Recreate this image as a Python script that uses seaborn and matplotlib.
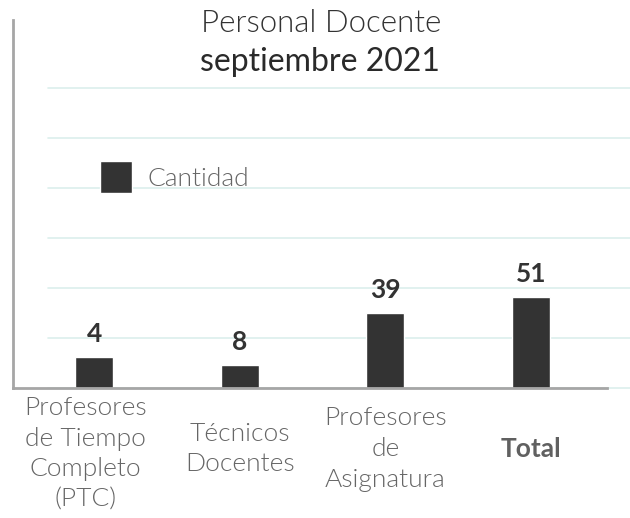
import matplotlib
matplotlib.use("Agg")
import matplotlib.pyplot as plt
import matplotlib.transforms as mtransforms
import seaborn as sns

categorias = ["Profesores\nde Tiempo\nCompleto\n(PTC)", "Técnicos\nDocentes",
              "Profesores\nde\nAsignatura", "Total"]
valores = [4, 8, 39, 51]                 # data labels shown above bars
alturas = [6.2, 4.6, 15.0, 18.2]         # bar heights as drawn in the reference
serie = "Cantidad"
titulo_1 = "Personal Docente"
titulo_2 = "septiembre 2021"
grid_vals = [0, 10, 20, 30, 40, 50, 60]

sns.set_theme(style="white")
plt.rcParams['font.family'] = ['Lato', 'DejaVu Sans']

W, H = 630, 518
fig = plt.figure(figsize=(W / 100, H / 100), dpi=100)
ax_l, ax_r, ax_b, ax_t = 13, 607, 388, 20
ax = fig.add_axes([ax_l / W, 1 - ax_b / H, (ax_r - ax_l) / W, (ax_b - ax_t) / H])

sns.barplot(x=categorias, y=alturas, color="#333333", saturation=1,
            width=0.262, label=serie, ax=ax, zorder=3)

ax.set_xlim(-0.557, 3.523)
ax.set_ylim(0, 73.6)

# grid lines
x0 = (48 - ax_l) / (ax_r - ax_l)
x1 = (630 - ax_l) / (ax_r - ax_l)
for g in grid_vals:
    ax.axhline(g, xmin=x0, xmax=x1, color="#dcefec", lw=1.2, zorder=0, clip_on=False)

for s in ["top", "right"]:
    ax.spines[s].set_visible(False)
for s in ["left", "bottom"]:
    ax.spines[s].set_color("#a6a6a6")
    ax.spines[s].set_linewidth(2)
    ax.spines[s].set_zorder(4)

ax.set_yticks([])
ax.set_ylabel("")
ax.set_xlabel("")
ax.tick_params(axis="x", length=0, pad=44)
for i, lab in enumerate(ax.get_xticklabels()):
    lab.set_verticalalignment("center")
    lab.set_fontsize(19)
    lab.set_linespacing(1.35)
    if categorias[i] == "Total":
        lab.set_fontweight("bold")
        lab.set_color("#606060")
    else:
        lab.set_fontweight(300)
        lab.set_color("#666666")
    if i == 0:
        lab.set_transform(lab.get_transform() +
                          mtransforms.ScaledTranslation(-9 / 100, -5 / 100, fig.dpi_scale_trans))

cont = ax.containers[0]
ax.bar_label(cont, labels=[str(v) for v in valores], padding=8,
             fontsize=19, fontweight="bold", color="#333333")

leg = ax.legend(loc="center left", bbox_to_anchor=(100 / W, 1 - 177 / H),
                bbox_transform=fig.transFigure, frameon=False, borderpad=0,
                borderaxespad=0, handlelength=1.213, handleheight=1.489,
                handletextpad=0.57, prop={"size": 19, "weight": 300})
for t in leg.get_texts():
    t.set_color("#666666")

fig.text(321 / W, 1 - 32 / H, titulo_1, ha="center", va="baseline",
         fontsize=22.5, fontweight=300, color="#333333")
fig.text(320 / W, 1 - 71 / H, titulo_2, ha="center", va="baseline",
         fontsize=23, fontweight="normal", color="#2a2a2a")

fig.savefig("out.png", dpi=100)
